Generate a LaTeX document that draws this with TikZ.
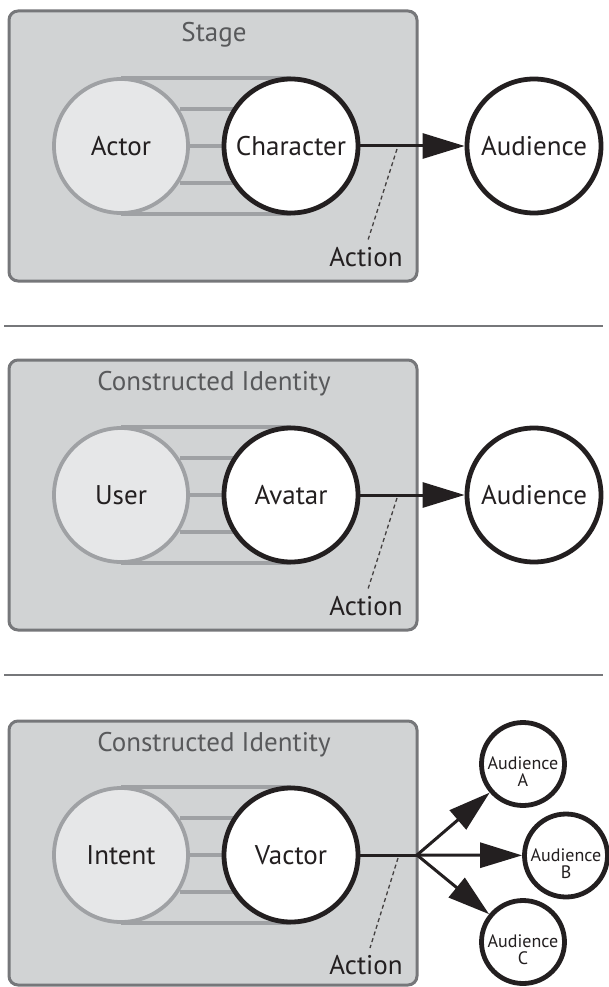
\documentclass[tikz,border=0pt]{standalone}
\usepackage{fontspec}
\setmainfont{PT Sans}
\usetikzlibrary{arrows.meta}
\definecolor{boxfill}{HTML}{D1D3D4}
\definecolor{boxline}{HTML}{76777A}
\definecolor{actorfill}{HTML}{E6E7E8}
\definecolor{actorline}{HTML}{9FA1A4}
\definecolor{ink}{HTML}{231F20}
\definecolor{titlegray}{HTML}{58595B}
\begin{document}
\begin{tikzpicture}[x=1pt,y=-1pt,
  panelbox/.style={draw=boxline, fill=boxfill, line width=3pt, rounded corners=9pt},
  innerc/.style={circle, draw=actorline, fill=actorfill, line width=3.8pt, minimum size=134pt, inner sep=0pt, text=ink, font=\fontsize{27}{27}\selectfont},
  outerc/.style={circle, draw=ink, fill=white, line width=4.8pt, minimum size=134pt, inner sep=0pt, text=ink, font=\fontsize{27}{27}\selectfont},
  smallc/.style={circle, draw=ink, fill=white, line width=4.8pt, minimum size=83pt, inner sep=0pt},
  smalltext/.style={align=center, text=ink, font=\fontsize{18}{17}\selectfont, yshift=-8pt},
  band/.style={draw=actorline, line width=3.6pt},
  title/.style={text=titlegray, font=\fontsize{27}{27}\selectfont},
  actlabel/.style={text=ink, font=\fontsize{27}{27}\selectfont},
  act/.style={draw=ink, line width=3pt, -{Triangle[length=42pt,width=25pt]}},
  plainline/.style={draw=ink, line width=3pt},
  dashline/.style={draw=ink!85, line width=1.3pt, dash pattern=on 4pt off 3pt},
  sep/.style={draw=boxline, line width=2.2pt}]
\useasboundingbox (0,0) rectangle (608,987);

% separators
\coordinate (s1a) at (4,326); \coordinate (s1b) at (603,326);
\coordinate (s2a) at (4,675); \coordinate (s2b) at (603,675);
\draw[sep] (s1a) -- (s1b);
\draw[sep] (s2a) -- (s2b);

% ---------- panel 1 ----------
\begin{scope}[yshift=-11pt]
\draw[panelbox] (9,0) rectangle (417,270);
\node[title] (t1) at (214,24) {Stage};
\foreach \dy/\xa/\xb in {-68/121/291, -37/180/240, 0/180/240, 37/180/240, 68/121/291}
  \draw[band] (\xa,135+\dy) -- (\xb,135+\dy);
\node[innerc] (in1) at (121,135) {Actor};
\node[outerc] (out1) at (291,135) {Character};
\node[outerc] (aud1) at (534,135) {Audience};
\draw[act] (out1) -- (aud1);
\node[actlabel] (a1) at (366,246) {Action};
\coordinate (d1a) at (397,138); \coordinate (d1b) at (368,229);
\draw[dashline] (d1a) -- (d1b);
\end{scope}

% ---------- panel 2 ----------
\begin{scope}[yshift=-360pt]
\draw[panelbox] (9,0) rectangle (417,270);
\node[title] (t2) at (214,24) {Constructed Identity};
\foreach \dy/\xa/\xb in {-68/121/291, -37/180/240, 0/180/240, 37/180/240, 68/121/291}
  \draw[band] (\xa,135+\dy) -- (\xb,135+\dy);
\node[innerc] (in2) at (121,135) {User};
\node[outerc] (out2) at (291,135) {Avatar};
\node[outerc] (aud2) at (534,135) {Audience};
\draw[act] (out2) -- (aud2);
\node[actlabel] (a2) at (366,246) {Action};
\coordinate (d2a) at (397,138); \coordinate (d2b) at (368,229);
\draw[dashline] (d2a) -- (d2b);
\end{scope}

% ---------- panel 3 ----------
\begin{scope}[yshift=-721pt]
\draw[panelbox] (9,0) rectangle (417,264);
\node[title] (t3) at (214,24) {Constructed Identity};
\foreach \dy/\xa/\xb in {-68/121/291, -37/180/240, 0/180/240, 37/180/240, 68/121/291}
  \draw[band] (\xa,134+\dy) -- (\xb,134+\dy);
\node[innerc] (in3) at (121,134) {Intent};
\node[outerc] (out3) at (291,134) {Vactor};
\node[smallc, label={[smalltext]center:Audience\\A}] (audA) at (523,43) {};
\node[smallc, label={[smalltext]center:Audience\\B}] (audB) at (566,134.5) {};
\node[smallc, label={[smalltext]center:Audience\\C}] (audC) at (523,221) {};
\coordinate (j3) at (417,134);
\draw[plainline] (out3) -- (j3);
\draw[act] (j3) -- (audA);
\draw[act] (j3) -- (audB);
\draw[act] (j3) -- (audC);
\node[actlabel] (a3) at (366,244) {Action};
\coordinate (d3a) at (398,137); \coordinate (d3b) at (370,227);
\draw[dashline] (d3a) -- (d3b);
\end{scope}
\end{tikzpicture}
\end{document}
